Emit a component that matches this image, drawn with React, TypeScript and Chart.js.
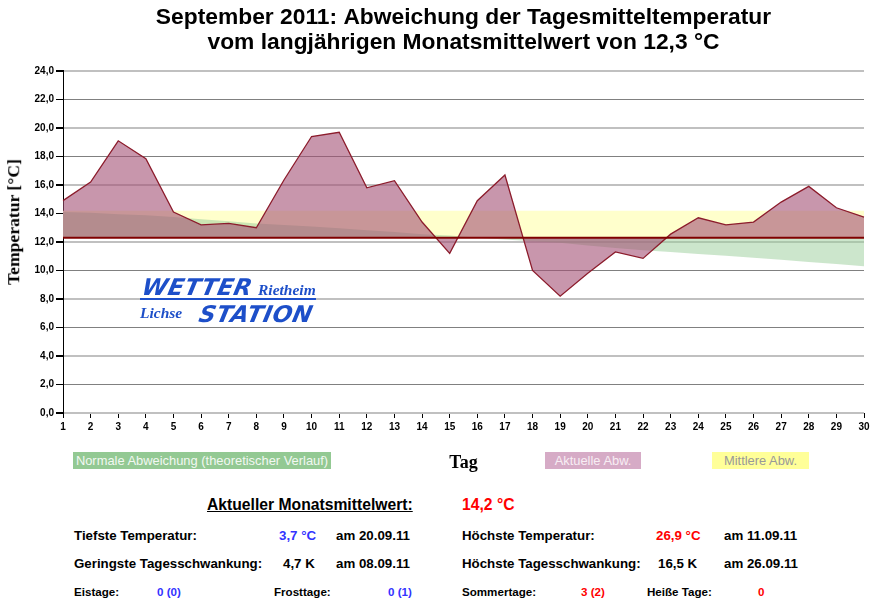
import React, { useEffect, useRef } from "react";
import { Chart, registerables } from "chart.js";

Chart.register(...registerables);

// ---- data ----
const dayLabels = ["1","2","3","4","5","6","7","8","9","10","11","12","13","14","15","16","17","18","19","20","21","22","23","24","25","26","27","28","29","30"];
// Aktuelle Tagesmitteltemperatur (°C)
const aktuelleAbw = [14.9, 16.2, 19.1, 17.85, 14.1, 13.2, 13.3, 13.0, 16.35, 19.4, 19.7, 15.8, 16.3, 13.4, 11.2, 14.9, 16.7, 10.0, 8.2, 9.8, 11.3, 10.85, 12.55, 13.7, 13.2, 13.4, 14.8, 15.9, 14.4, 13.75];
// Normale Abweichung (theoretischer Verlauf)
const normaleAbw = [14.1, 14.05, 13.95, 13.87, 13.75, 13.6, 13.45, 13.3, 13.2, 13.08, 12.96, 12.82, 12.7, 12.55, 12.45, 12.3, 12.17, 12.05, 11.95, 11.75, 11.58, 11.42, 11.3, 11.15, 11.03, 10.9, 10.75, 10.6, 10.45, 10.3];
// Mittlere Abweichung (Monatsmittel 14,2 °C)
const mittlereAbw = [14.2, 14.2, 14.2, 14.2, 14.2, 14.2, 14.2, 14.2, 14.2, 14.2, 14.2, 14.2, 14.2, 14.2, 14.2, 14.2, 14.2, 14.2, 14.2, 14.2, 14.2, 14.2, 14.2, 14.2, 14.2, 14.2, 14.2, 14.2, 14.2, 14.2];
// Langjähriges Monatsmittel
const langjMittel = [12.3, 12.3, 12.3, 12.3, 12.3, 12.3, 12.3, 12.3, 12.3, 12.3, 12.3, 12.3, 12.3, 12.3, 12.3, 12.3, 12.3, 12.3, 12.3, 12.3, 12.3, 12.3, 12.3, 12.3, 12.3, 12.3, 12.3, 12.3, 12.3, 12.3];
const baseValue = 12.3;
const yMin = 0;
const yMax = 24;
const yStep = 2;

const titleLines = [
  "September 2011: Abweichung der Tagesmitteltemperatur",
  "vom langjährigen Monatsmittelwert von 12,3 °C",
];

const SANS = "'Liberation Sans', Arial, sans-serif";
const SERIF = "'Liberation Serif', 'Times New Roman', serif";

export default function App() {
  const canvasRef = useRef<HTMLCanvasElement | null>(null);

  useEffect(() => {
    const canvas = canvasRef.current;
    if (!canvas) return;
    const chart = new Chart(canvas, {
      type: "line",
      data: {
        labels: dayLabels,
        datasets: [
          {
            label: "Basis",
            data: langjMittel,
            borderColor: "#800000",
            borderWidth: 2,
            pointRadius: 0,
            fill: false,
            order: -1,
          },
          {
            label: "Aktuelle Abw.",
            data: aktuelleAbw,
            borderColor: "#8c1c2c",
            borderWidth: 1.3,
            backgroundColor: "rgba(163,80,117,0.6)",
            pointRadius: 0,
            fill: { value: baseValue },
            order: 0,
          },
          {
            label: "Normale Abweichung (theoretischer Verlauf)",
            data: normaleAbw,
            borderWidth: 0,
            borderColor: "rgba(0,0,0,0)",
            backgroundColor: "rgba(153,205,153,0.5)",
            pointRadius: 0,
            fill: { value: baseValue },
            order: 1,
          },
          {
            label: "Mittlere Abw.",
            data: mittlereAbw,
            borderWidth: 0,
            borderColor: "rgba(0,0,0,0)",
            backgroundColor: "#ffffcc",
            pointRadius: 0,
            fill: { value: baseValue },
            order: 2,
          },
        ],
      },
      options: {
        animation: false,
        responsive: false,
        devicePixelRatio: 1,
        layout: { padding: { left: 0, right: 12, top: 0, bottom: 0 } },
        plugins: {
          legend: { display: false },
          tooltip: { enabled: false },
          title: {
            display: true,
            fullSize: false,
            text: titleLines,
            color: "#000",
            font: { family: SANS, size: 22.8, weight: "bold", lineHeight: 1.1 },
            padding: { top: 5.5, bottom: 15.3 },
          },
        },
        scales: {
          x: {
            type: "category",
            offset: false,
            afterFit: (scale: any) => {
              scale.height = 67;
            },
            grid: {
              drawOnChartArea: false,
              drawTicks: true,
              tickLength: 5,
              tickColor: "#000",
              color: "#000",
            },
            border: { display: false },
            ticks: {
              color: "#000",
              font: { family: SANS, size: 10, weight: "bold" },
              padding: 3,
              maxRotation: 0,
              autoSkip: false,
            },
            title: {
              display: true,
              text: "Tag",
              color: "#000",
              font: { family: SERIF, size: 18, weight: "bold", lineHeight: 1.2 },
              padding: { top: 0, bottom: 6 },
            },
          },
          y: {
            min: yMin,
            max: yMax,
            afterFit: (scale: any) => {
              scale.width = 63;
            },
            ticks: {
              stepSize: yStep,
              color: "#000",
              font: { family: SANS, size: 10, weight: "bold" },
              padding: 2,
              callback: (v: any) => Number(v).toFixed(1).replace(".", ","),
            },
            grid: {
              color: (ctx: any) => (ctx.tick && ctx.tick.value % 4 === 0 ? "#c0c0c0" : "#808080"),
              lineWidth: (ctx: any) => (ctx.tick && ctx.tick.value % 4 === 0 ? 2 : 1),
              tickColor: "#000",
              tickLength: 7,
            },
            border: { display: true, color: "#000", width: 1 },
            title: { display: false },
          },
        },
      },
    });
    return () => chart.destroy();
  }, []);

  const abs = (left: number, top: number): React.CSSProperties => ({
    position: "absolute",
    left,
    top,
    whiteSpace: "nowrap",
    lineHeight: 1,
  });

  const rowFont: React.CSSProperties = { fontFamily: SANS, fontWeight: "bold", fontSize: 13.3, color: "#000" };
  const smallFont: React.CSSProperties = { fontFamily: SANS, fontWeight: "bold", fontSize: 11.6, color: "#000" };
  const blue = "#3333ff";
  const red = "#ff0000";
  const logoBlue = "#1d4fc9";
  const logoBig: React.CSSProperties = {
    fontFamily: "'DejaVu Sans', sans-serif",
    fontWeight: 900,
    fontStyle: "italic",
    fontSize: 23,
    color: logoBlue,
    letterSpacing: 0.6,
    transform: "skewX(-12deg)",
    transformOrigin: "left bottom",
  };
  const logoSmall: React.CSSProperties = {
    fontFamily: SERIF,
    fontWeight: "bold",
    fontStyle: "italic",
    fontSize: 15.5,
    color: logoBlue,
  };

  const legendBox = (left: number, width: number, bg: string, fg: string, text: string) => (
    <div
      style={{
        position: "absolute",
        left,
        top: 452,
        width,
        height: 17,
        background: bg,
        color: fg,
        fontFamily: SANS,
        fontSize: 12.9,
        lineHeight: "17px",
        textAlign: "center",
        whiteSpace: "nowrap",
      }}
    >
      {text}
    </div>
  );

  return (
    <div style={{ position: "absolute", left: 0, top: 0, width: 876, height: 604, background: "#fff", overflow: "hidden" }}>
      <canvas ref={canvasRef} width={876} height={480} style={{ position: "absolute", left: 0, top: 0, width: 876, height: 480 }} />

      {/* y axis title */}
      <div
        style={{
          position: "absolute",
          left: 14,
          top: 222,
          transform: "translate(-50%, -50%) rotate(-90deg)",
          fontFamily: SERIF,
          fontWeight: "bold",
          fontSize: 17.6,
          color: "#000",
          whiteSpace: "nowrap",
          lineHeight: 1,
        }}
      >
        Temperatur [°C]
      </div>

      {/* logo */}
      <div style={{ ...abs(140, 276), ...logoBig }}>WETTER</div>
      <div style={{ ...abs(258, 282), ...logoSmall }}>Rietheim</div>
      <div style={{ position: "absolute", left: 140, top: 298, width: 176, height: 2, background: logoBlue }} />
      <div style={{ ...abs(140, 305), ...logoSmall }}>Lichse</div>
      <div style={{ ...abs(197, 303), ...logoBig }}>STATION</div>

      {/* legend */}
      {legendBox(73, 258, "#93c993", "#f2f8f2", "Normale Abweichung (theoretischer Verlauf)")}
      {legendBox(545, 96, "#d6abc6", "#f8eef4", "Aktuelle Abw.")}
      {legendBox(712, 97, "#ffff99", "#999999", "Mittlere Abw.")}

      {/* stats */}
      <div style={{ ...abs(207, 497), fontFamily: SANS, fontWeight: "bold", fontSize: 15.7, color: "#000", textDecoration: "underline" }}>Aktueller Monatsmittelwert:</div>
      <div style={{ ...abs(462, 497), fontFamily: SANS, fontWeight: "bold", fontSize: 15.7, color: red }}>14,2 °C</div>

      <div style={{ ...abs(74, 529), ...rowFont }}>Tiefste Temperatur:</div>
      <div style={{ ...abs(279, 529), ...rowFont, color: blue }}>3,7 °C</div>
      <div style={{ ...abs(336, 529), ...rowFont }}>am 20.09.11</div>
      <div style={{ ...abs(462, 529), ...rowFont }}>Höchste Temperatur:</div>
      <div style={{ ...abs(656, 529), ...rowFont, color: red }}>26,9 °C</div>
      <div style={{ ...abs(724, 529), ...rowFont }}>am 11.09.11</div>

      <div style={{ ...abs(74, 557), ...rowFont }}>Geringste Tagesschwankung:</div>
      <div style={{ ...abs(283, 557), ...rowFont }}>4,7 K</div>
      <div style={{ ...abs(336, 557), ...rowFont }}>am 08.09.11</div>
      <div style={{ ...abs(462, 557), ...rowFont }}>Höchste Tagesschwankung:</div>
      <div style={{ ...abs(658, 557), ...rowFont }}>16,5 K</div>
      <div style={{ ...abs(724, 557), ...rowFont }}>am 26.09.11</div>

      <div style={{ ...abs(74, 586), ...smallFont }}>Eistage:</div>
      <div style={{ ...abs(157, 586), ...smallFont, color: blue }}>0 (0)</div>
      <div style={{ ...abs(274, 586), ...smallFont }}>Frosttage:</div>
      <div style={{ ...abs(388, 586), ...smallFont, color: blue }}>0 (1)</div>
      <div style={{ ...abs(462, 586), ...smallFont }}>Sommertage:</div>
      <div style={{ ...abs(581, 586), ...smallFont, color: red }}>3 (2)</div>
      <div style={{ ...abs(647, 586), ...smallFont }}>Heiße Tage:</div>
      <div style={{ ...abs(758, 586), ...smallFont, color: red }}>0</div>
    </div>
  );
}
